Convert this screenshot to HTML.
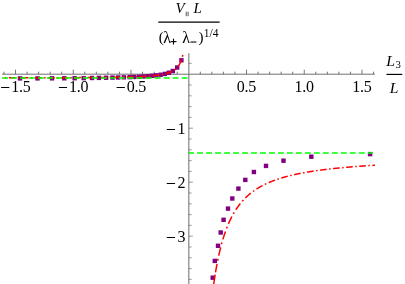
<!DOCTYPE html><html><head><meta charset="utf-8"><style>html,body{margin:0;padding:0;background:#fff;}svg{display:block;will-change:transform}text{font-family:"Liberation Serif",serif;fill:#000}</style></head><body>
<svg width="405" height="284" viewBox="0 0 405 284">
<rect width="405" height="284" fill="#fff"/>
<g stroke="#707070" stroke-width="1.0" fill="none">
<line x1="2.1" y1="74.2" x2="374.8" y2="74.2"/>
<line x1="188.85" y1="53.2" x2="188.85" y2="284" stroke="#6c6c6c" stroke-width="1.0"/>
</g>
<g stroke="#666" stroke-width="0.9" fill="none">
<line x1="3.95" y1="74.2" x2="3.95" y2="71.70"/>
<line x1="15.50" y1="74.2" x2="15.50" y2="69.70"/>
<line x1="27.05" y1="74.2" x2="27.05" y2="71.70"/>
<line x1="38.60" y1="74.2" x2="38.60" y2="71.70"/>
<line x1="50.15" y1="74.2" x2="50.15" y2="71.70"/>
<line x1="61.70" y1="74.2" x2="61.70" y2="71.70"/>
<line x1="73.25" y1="74.2" x2="73.25" y2="69.70"/>
<line x1="84.80" y1="74.2" x2="84.80" y2="71.70"/>
<line x1="96.35" y1="74.2" x2="96.35" y2="71.70"/>
<line x1="107.90" y1="74.2" x2="107.90" y2="71.70"/>
<line x1="119.45" y1="74.2" x2="119.45" y2="71.70"/>
<line x1="131.00" y1="74.2" x2="131.00" y2="69.70"/>
<line x1="142.55" y1="74.2" x2="142.55" y2="71.70"/>
<line x1="154.10" y1="74.2" x2="154.10" y2="71.70"/>
<line x1="165.65" y1="74.2" x2="165.65" y2="71.70"/>
<line x1="177.20" y1="74.2" x2="177.20" y2="71.70"/>
<line x1="200.30" y1="74.2" x2="200.30" y2="71.70"/>
<line x1="211.85" y1="74.2" x2="211.85" y2="71.70"/>
<line x1="223.40" y1="74.2" x2="223.40" y2="71.70"/>
<line x1="234.95" y1="74.2" x2="234.95" y2="71.70"/>
<line x1="246.50" y1="74.2" x2="246.50" y2="69.70"/>
<line x1="258.05" y1="74.2" x2="258.05" y2="71.70"/>
<line x1="269.60" y1="74.2" x2="269.60" y2="71.70"/>
<line x1="281.15" y1="74.2" x2="281.15" y2="71.70"/>
<line x1="292.70" y1="74.2" x2="292.70" y2="71.70"/>
<line x1="304.25" y1="74.2" x2="304.25" y2="69.70"/>
<line x1="315.80" y1="74.2" x2="315.80" y2="71.70"/>
<line x1="327.35" y1="74.2" x2="327.35" y2="71.70"/>
<line x1="338.90" y1="74.2" x2="338.90" y2="71.70"/>
<line x1="350.45" y1="74.2" x2="350.45" y2="71.70"/>
<line x1="362.00" y1="74.2" x2="362.00" y2="69.70"/>
<line x1="373.55" y1="74.2" x2="373.55" y2="71.70"/>
<line x1="188.75" y1="279.40" x2="191.65" y2="279.40" stroke-width="0.65"/>
<line x1="188.75" y1="268.60" x2="191.65" y2="268.60" stroke-width="0.65"/>
<line x1="188.75" y1="257.80" x2="191.65" y2="257.80" stroke-width="0.65"/>
<line x1="188.75" y1="247.00" x2="191.65" y2="247.00" stroke-width="0.65"/>
<line x1="188.75" y1="236.20" x2="192.95" y2="236.20" stroke-width="0.65"/>
<line x1="188.75" y1="225.40" x2="191.65" y2="225.40" stroke-width="0.65"/>
<line x1="188.75" y1="214.60" x2="191.65" y2="214.60" stroke-width="0.65"/>
<line x1="188.75" y1="203.80" x2="191.65" y2="203.80" stroke-width="0.65"/>
<line x1="188.75" y1="193.00" x2="191.65" y2="193.00" stroke-width="0.65"/>
<line x1="188.75" y1="182.20" x2="192.95" y2="182.20" stroke-width="0.65"/>
<line x1="188.75" y1="171.40" x2="191.65" y2="171.40" stroke-width="0.65"/>
<line x1="188.75" y1="160.60" x2="191.65" y2="160.60" stroke-width="0.65"/>
<line x1="188.75" y1="149.80" x2="191.65" y2="149.80" stroke-width="0.65"/>
<line x1="188.75" y1="139.00" x2="191.65" y2="139.00" stroke-width="0.65"/>
<line x1="188.75" y1="128.20" x2="192.95" y2="128.20" stroke-width="0.65"/>
<line x1="188.75" y1="117.40" x2="191.65" y2="117.40" stroke-width="0.65"/>
<line x1="188.75" y1="106.60" x2="191.65" y2="106.60" stroke-width="0.65"/>
<line x1="188.75" y1="95.80" x2="191.65" y2="95.80" stroke-width="0.65"/>
<line x1="188.75" y1="85.00" x2="191.65" y2="85.00" stroke-width="0.65"/>
<line x1="188.75" y1="63.40" x2="191.65" y2="63.40" stroke-width="0.65"/>
</g>
<g fill="#800080">
<rect x="367.90" y="151.90" width="4.4" height="4.4"/>
<rect x="309.10" y="154.50" width="4.4" height="4.4"/>
<rect x="281.30" y="158.50" width="4.4" height="4.4"/>
<rect x="263.80" y="163.70" width="4.4" height="4.4"/>
<rect x="251.70" y="169.80" width="4.4" height="4.4"/>
<rect x="243.10" y="177.70" width="4.4" height="4.4"/>
<rect x="236.20" y="186.40" width="4.4" height="4.4"/>
<rect x="230.10" y="196.30" width="4.4" height="4.4"/>
<rect x="225.80" y="206.40" width="4.4" height="4.4"/>
<rect x="221.40" y="217.60" width="4.4" height="4.4"/>
<rect x="218.50" y="230.30" width="4.4" height="4.4"/>
<rect x="215.80" y="243.60" width="4.4" height="4.4"/>
<rect x="212.60" y="258.70" width="4.4" height="4.4"/>
<rect x="210.50" y="275.50" width="4.4" height="4.4"/>
<rect x="17.80" y="76.20" width="4.4" height="4.4"/>
<rect x="35.30" y="76.17" width="4.4" height="4.4"/>
<rect x="49.80" y="76.13" width="4.4" height="4.4"/>
<rect x="62.10" y="76.09" width="4.4" height="4.4"/>
<rect x="72.40" y="76.04" width="4.4" height="4.4"/>
<rect x="81.50" y="75.92" width="4.4" height="4.4"/>
<rect x="89.80" y="75.80" width="4.4" height="4.4"/>
<rect x="96.70" y="75.68" width="4.4" height="4.4"/>
<rect x="103.90" y="75.55" width="4.4" height="4.4"/>
<rect x="110.30" y="75.41" width="4.4" height="4.4"/>
<rect x="116.00" y="75.28" width="4.4" height="4.4"/>
<rect x="121.60" y="75.12" width="4.4" height="4.4"/>
<rect x="127.50" y="74.92" width="4.4" height="4.4"/>
<rect x="132.00" y="74.74" width="4.4" height="4.4"/>
<rect x="136.80" y="74.52" width="4.4" height="4.4"/>
<rect x="141.00" y="74.28" width="4.4" height="4.4"/>
<rect x="145.30" y="73.99" width="4.4" height="4.4"/>
<rect x="149.60" y="73.62" width="4.4" height="4.4"/>
<rect x="153.90" y="73.17" width="4.4" height="4.4"/>
<rect x="158.40" y="72.55" width="4.4" height="4.4"/>
<rect x="162.60" y="71.73" width="4.4" height="4.4"/>
<rect x="166.70" y="70.55" width="4.4" height="4.4"/>
<rect x="170.60" y="68.81" width="4.4" height="4.4"/>
<rect x="175.00" y="65.29" width="4.4" height="4.4"/>
<rect x="179.20" y="58.11" width="4.4" height="4.4"/>
</g>
<path d="M213.67,284.50 L213.74,283.94 L213.82,283.39 L213.90,282.84 L213.98,282.30 L214.06,281.76 L214.14,281.23 L214.22,280.69 L214.30,280.17 L214.38,279.64 L214.45,279.12 L214.53,278.60 L214.61,278.09 L214.69,277.58 L214.77,277.08 L214.85,276.57 L214.93,276.07 L215.01,275.58 L215.09,275.09 L215.16,274.60 M215.54,272.30 L215.81,270.73 L216.08,269.20 L216.34,267.70 L216.61,266.24 L216.87,264.81 L217.05,263.88 M217.67,260.71 L217.67,260.70 L217.94,259.39 L218.06,258.81 M218.73,255.66 L218.74,255.62 L219.00,254.42 L219.27,253.24 L219.54,252.09 L219.80,250.96 L220.07,249.85 L220.34,248.76 L220.60,247.70 L220.68,247.40 M221.49,244.30 L221.67,243.65 L221.93,242.69 L222.00,242.45 M222.88,239.39 L223.00,239.01 L223.26,238.13 L223.53,237.27 L223.80,236.42 L224.06,235.59 L224.33,234.78 L224.59,233.98 L224.86,233.19 L225.13,232.42 L225.39,231.66 L225.47,231.44 M226.56,228.49 L226.72,228.05 L226.99,227.36 L227.24,226.74 M228.43,223.86 L228.59,223.48 L228.85,222.87 L229.12,222.27 L229.39,221.68 L229.65,221.10 L229.92,220.52 L230.18,219.96 L230.45,219.40 L230.72,218.85 L230.98,218.32 L231.25,217.78 L231.52,217.26 L231.78,216.75 L231.91,216.51 M233.36,213.85 L233.38,213.81 L233.65,213.34 L233.91,212.89 L234.18,212.43 L234.27,212.28 M235.85,209.74 L236.04,209.44 L236.31,209.04 L236.57,208.64 L236.84,208.24 L237.11,207.85 L237.37,207.47 L237.64,207.09 L237.90,206.72 L238.17,206.35 L238.44,205.99 L238.70,205.63 L238.97,205.27 L239.24,204.92 L239.50,204.58 L239.77,204.24 L240.03,203.90 L240.30,203.57 L240.38,203.47 M242.23,201.27 L242.43,201.05 L242.70,200.75 L242.96,200.45 L243.23,200.16 L243.38,200.00 M245.34,197.97 L245.36,197.95 L245.62,197.69 L245.89,197.43 L246.16,197.17 L246.42,196.92 L246.69,196.67 L246.96,196.42 L247.22,196.18 L247.49,195.93 L247.75,195.69 L248.02,195.46 L248.29,195.22 L248.55,194.99 L248.82,194.76 L249.09,194.53 L249.35,194.31 L249.62,194.08 L249.88,193.86 L250.15,193.64 L250.42,193.43 L250.68,193.22 L250.80,193.12 M252.96,191.47 L253.08,191.39 L253.34,191.20 L253.61,191.00 L253.88,190.82 L254.14,190.63 L254.28,190.53 M256.51,189.04 L256.54,189.02 L256.81,188.85 L257.07,188.68 L257.34,188.52 L257.60,188.35 L257.87,188.19 L258.14,188.02 L258.40,187.86 L258.67,187.70 L258.93,187.55 L259.20,187.39 L259.47,187.23 L259.73,187.08 L260.00,186.93 L260.27,186.78 L260.53,186.63 L260.80,186.48 L261.06,186.33 L261.33,186.19 L261.60,186.04 L261.86,185.90 L262.13,185.76 L262.40,185.62 L262.54,185.54 M264.87,184.36 L265.06,184.27 L265.32,184.15 L265.59,184.02 L265.86,183.89 L266.12,183.77 L266.28,183.69 M268.65,182.63 L268.78,182.57 L269.05,182.46 L269.32,182.34 L269.58,182.23 L269.85,182.12 L270.12,182.01 L270.38,181.90 L270.65,181.79 L270.91,181.68 L271.18,181.58 L271.45,181.47 L271.71,181.36 L271.98,181.26 L272.25,181.15 L272.51,181.05 L272.78,180.95 L273.04,180.85 L273.31,180.74 L273.58,180.64 L273.84,180.54 L274.11,180.45 L274.37,180.35 L274.64,180.25 L274.91,180.15 L274.96,180.13 M277.38,179.29 L277.57,179.23 L277.84,179.14 L278.10,179.05 L278.37,178.96 L278.63,178.87 L278.83,178.81 M281.26,178.04 L281.30,178.03 L281.56,177.95 L281.83,177.87 L282.09,177.79 L282.36,177.71 L282.63,177.63 L282.89,177.55 L283.16,177.48 L283.43,177.40 L283.69,177.32 L283.96,177.25 L284.22,177.17 L284.49,177.10 L284.76,177.02 L285.02,176.95 L285.29,176.87 L285.56,176.80 L285.82,176.73 L286.09,176.65 L286.35,176.58 L286.62,176.51 L286.89,176.44 L287.15,176.37 L287.42,176.30 L287.69,176.23 L287.72,176.22 M290.17,175.60 L290.35,175.56 L290.61,175.49 L290.88,175.43 L291.15,175.36 L291.41,175.30 L291.65,175.25 M294.11,174.68 L294.34,174.62 L294.61,174.57 L294.87,174.51 L295.14,174.45 L295.40,174.39 L295.67,174.33 L295.94,174.27 L296.20,174.22 L296.47,174.16 L296.74,174.10 L297.00,174.05 L297.27,173.99 L297.53,173.94 L297.80,173.88 L298.07,173.83 L298.33,173.77 L298.60,173.72 L298.87,173.66 L299.13,173.61 L299.40,173.56 L299.66,173.50 L299.93,173.45 L300.20,173.40 L300.46,173.35 L300.62,173.31 M303.10,172.84 L303.12,172.84 L303.39,172.79 L303.66,172.74 L303.92,172.69 L304.19,172.64 L304.46,172.60 L304.58,172.57 M307.06,172.14 L307.12,172.13 L307.38,172.08 L307.65,172.04 L307.92,171.99 L308.18,171.95 L308.45,171.90 L308.72,171.86 L308.98,171.82 L309.25,171.77 L309.51,171.73 L309.78,171.69 L310.05,171.64 L310.31,171.60 L310.58,171.56 L310.84,171.51 L311.11,171.47 L311.38,171.43 L311.64,171.39 L311.91,171.35 L312.18,171.31 L312.44,171.27 L312.71,171.22 L312.97,171.18 L313.24,171.14 L313.51,171.10 L313.61,171.09 M316.10,170.72 L316.17,170.71 L316.44,170.67 L316.70,170.63 L316.97,170.60 L317.23,170.56 L317.50,170.52 L317.59,170.51 M320.08,170.17 L320.16,170.16 L320.43,170.12 L320.69,170.09 L320.96,170.05 L321.23,170.02 L321.49,169.98 L321.76,169.95 L322.03,169.91 L322.29,169.88 L322.56,169.84 L322.82,169.81 L323.09,169.77 L323.36,169.74 L323.62,169.71 L323.89,169.67 L324.16,169.64 L324.42,169.61 L324.69,169.57 L324.95,169.54 L325.22,169.51 L325.49,169.48 L325.75,169.44 L326.02,169.41 L326.28,169.38 L326.55,169.35 L326.64,169.34 M329.13,169.04 L329.21,169.04 L329.48,169.01 L329.75,168.97 L330.01,168.94 L330.28,168.91 L330.54,168.88 L330.63,168.88 M333.12,168.60 L333.21,168.59 L333.47,168.56 L333.74,168.54 L334.00,168.51 L334.27,168.48 L334.54,168.45 L334.80,168.42 L335.07,168.40 L335.34,168.37 L335.60,168.34 L335.87,168.31 L336.13,168.29 L336.40,168.26 L336.67,168.23 L336.93,168.20 L337.20,168.18 L337.47,168.15 L337.73,168.12 L338.00,168.10 L338.26,168.07 L338.53,168.04 L338.80,168.02 L339.06,167.99 L339.33,167.97 L339.59,167.94 L339.70,167.93 M342.19,167.69 L342.26,167.69 L342.52,167.66 L342.79,167.64 L343.06,167.61 L343.32,167.59 L343.59,167.56 L343.69,167.55 M346.18,167.33 L346.25,167.32 L346.52,167.30 L346.78,167.28 L347.05,167.25 L347.31,167.23 L347.58,167.21 L347.85,167.18 L348.11,167.16 L348.38,167.14 L348.65,167.12 L348.91,167.09 L349.18,167.07 L349.44,167.05 L349.71,167.03 L349.98,167.00 L350.24,166.98 L350.51,166.96 L350.78,166.94 L351.04,166.92 L351.31,166.89 L351.57,166.87 L351.84,166.85 L352.11,166.83 L352.37,166.81 L352.64,166.79 L352.77,166.78 M355.27,166.58 L355.30,166.58 L355.57,166.56 L355.83,166.54 L356.10,166.52 L356.37,166.49 L356.63,166.47 L356.76,166.46 M359.26,166.28 L359.29,166.28 L359.56,166.26 L359.83,166.24 L360.09,166.22 L360.36,166.20 L360.62,166.18 L360.89,166.16 L361.16,166.14 L361.42,166.12 L361.69,166.10 L361.96,166.08 L362.22,166.07 L362.49,166.05 L362.75,166.03 L363.02,166.01 L363.29,165.99 L363.55,165.97 L363.82,165.95 L364.09,165.94 L364.35,165.92 L364.62,165.90 L364.88,165.88 L365.15,165.86 L365.42,165.84 L365.68,165.83 L365.85,165.82 M368.35,165.65 L368.61,165.63 L368.88,165.62 L369.14,165.60 L369.41,165.58 L369.68,165.56 L369.85,165.55 M372.34,165.40 L372.60,165.38 L372.87,165.36 L373.14,165.35 L373.40,165.33 L373.67,165.31 L373.94,165.30 L374.20,165.28 L374.47,165.27 L374.73,165.25 L375.00,165.23" fill="none" stroke="#ff0000" stroke-width="1.5"/>
<path d="M182.80,54.89 L182.74,55.16 L182.54,56.01 L182.35,56.76 M181.44,59.81 L181.33,60.10 L181.13,60.66 L180.93,61.18 L180.73,61.68 L180.53,62.15 L180.33,62.60 L180.13,63.02 L179.93,63.43 L179.72,63.82 L179.52,64.19 L179.32,64.54 L179.12,64.88 L178.92,65.20 L178.72,65.51 L178.52,65.81 L178.32,66.10 L178.12,66.37 L177.91,66.63 L177.72,66.88 M175.76,68.92 L175.70,68.97 L175.50,69.14 L175.30,69.31 L175.10,69.47 L174.90,69.63 L174.70,69.78 L174.50,69.92 L174.48,69.94 M172.22,71.32 L172.08,71.39 L171.88,71.50 L171.68,71.59 L171.48,71.69 L171.28,71.79 L171.08,71.88 L170.88,71.97 L170.67,72.06 L170.47,72.14 L170.27,72.23 L170.07,72.31 L169.87,72.39 L169.67,72.47 L169.47,72.54 L169.27,72.62 L169.07,72.69 L168.87,72.76 L168.66,72.83 L168.46,72.90 L168.26,72.97 L168.06,73.03 L167.86,73.10 L167.66,73.16 L167.46,73.22 L167.26,73.28 L167.06,73.34 L166.85,73.40 L166.65,73.45 L166.45,73.51 L166.25,73.56 L166.05,73.62 L165.87,73.66 M163.41,74.23 L163.23,74.27 L163.03,74.31 L162.83,74.35 L162.63,74.39 L162.43,74.43 L162.23,74.46 L162.03,74.50 L161.93,74.52 M159.45,74.93 L159.41,74.93 L159.21,74.96 L159.01,74.99 L158.81,75.02 L158.61,75.05 L158.41,75.08 L158.21,75.10 L158.01,75.13 L157.81,75.16 L157.60,75.18 L157.40,75.21 L157.20,75.24 L157.00,75.26 L156.80,75.29 L156.60,75.31 L156.40,75.33 L156.20,75.36 L156.00,75.38 L155.79,75.41 L155.59,75.43 L155.39,75.45 L155.19,75.47 L154.99,75.49 L154.79,75.52 L154.59,75.54 L154.39,75.56 L154.19,75.58 L153.98,75.60 L153.78,75.62 L153.58,75.64 L153.38,75.66 L153.18,75.68 L152.98,75.70 L152.88,75.71 M150.38,75.93 L150.36,75.93 L150.16,75.94 L149.96,75.96 L149.76,75.98 L149.56,75.99 L149.36,76.01 L149.16,76.02 L148.96,76.04 L148.88,76.04 M146.39,76.21 L146.34,76.22 L146.14,76.23 L145.94,76.24 L145.74,76.26 L145.54,76.27 L145.34,76.28 L145.14,76.29 L144.94,76.30 L144.73,76.32 L144.53,76.33 L144.33,76.34 L144.13,76.35 L143.93,76.36 L143.73,76.37 L143.53,76.38 L143.33,76.40 L143.13,76.41 L142.92,76.42 L142.72,76.43 L142.52,76.44 L142.32,76.45 L142.12,76.46 L141.92,76.47 L141.72,76.48 L141.52,76.49 L141.32,76.50 L141.11,76.51 L140.91,76.52 L140.71,76.53 L140.51,76.54 L140.31,76.55 L140.11,76.56 L139.91,76.57 L139.79,76.57 M137.29,76.68 L137.29,76.68 L137.09,76.69 L136.89,76.70 L136.69,76.70 L136.49,76.71 L136.29,76.72 L136.09,76.73 L135.89,76.74 L135.79,76.74 M133.30,76.83 L133.27,76.83 L133.07,76.84 L132.87,76.84 L132.67,76.85 L132.47,76.86 L132.27,76.86 L132.07,76.87 L131.86,76.88 L131.66,76.88 L131.46,76.89 L131.26,76.89 L131.06,76.90 L130.86,76.91 L130.66,76.91 L130.46,76.92 L130.26,76.92 L130.05,76.93 L129.85,76.94 L129.65,76.94 L129.45,76.95 L129.25,76.95 L129.05,76.96 L128.85,76.97 L128.65,76.97 L128.45,76.98 L128.24,76.98 L128.04,76.99 L127.84,76.99 L127.64,77.00 L127.44,77.00 L127.24,77.01 L127.04,77.01 L126.84,77.02 L126.70,77.02 M124.20,77.08 L124.02,77.09 L123.82,77.09 L123.62,77.10 L123.42,77.10 L123.22,77.11 L123.02,77.11 L122.82,77.12 L122.70,77.12 M120.20,77.17 L120.00,77.17 L119.80,77.18 L119.60,77.18 L119.40,77.19 L119.20,77.19 L118.99,77.19 L118.79,77.20 L118.59,77.20 L118.39,77.21 L118.19,77.21 L117.99,77.21 L117.79,77.22 L117.59,77.22 L117.39,77.22 L117.18,77.23 L116.98,77.23 L116.78,77.24 L116.58,77.24 L116.38,77.24 L116.18,77.25 L115.98,77.25 L115.78,77.25 L115.58,77.26 L115.37,77.26 L115.17,77.26 L114.97,77.27 L114.77,77.27 L114.57,77.27 L114.37,77.28 L114.17,77.28 L113.97,77.28 L113.77,77.29 L113.60,77.29 M111.10,77.33 L110.95,77.33 L110.75,77.33 L110.55,77.33 L110.35,77.34 L110.15,77.34 L109.95,77.34 L109.74,77.35 L109.60,77.35 M107.10,77.38 L106.93,77.38 L106.73,77.39 L106.53,77.39 L106.33,77.39 L106.12,77.39 L105.92,77.40 L105.72,77.40 L105.52,77.40 L105.32,77.40 L105.12,77.41 L104.92,77.41 L104.72,77.41 L104.52,77.41 L104.31,77.42 L104.11,77.42 L103.91,77.42 L103.71,77.42 L103.51,77.42 L103.31,77.43 L103.11,77.43 L102.91,77.43 L102.71,77.43 L102.50,77.44 L102.30,77.44 L102.10,77.44 L101.90,77.44 L101.70,77.44 L101.50,77.45 L101.30,77.45 L101.10,77.45 L100.90,77.45 L100.70,77.46 L100.50,77.46 M98.00,77.48 L97.88,77.48 L97.68,77.49 L97.48,77.49 L97.28,77.49 L97.08,77.49 L96.87,77.49 L96.67,77.49 L96.50,77.50 M94.00,77.52 L93.86,77.52 L93.66,77.52 L93.46,77.52 L93.25,77.52 L93.05,77.53 L92.85,77.53 L92.65,77.53 L92.45,77.53 L92.25,77.53 L92.05,77.53 L91.85,77.54 L91.65,77.54 L91.44,77.54 L91.24,77.54 L91.04,77.54 L90.84,77.54 L90.64,77.55 L90.44,77.55 L90.24,77.55 L90.04,77.55 L89.84,77.55 L89.63,77.55 L89.43,77.56 L89.23,77.56 L89.03,77.56 L88.83,77.56 L88.63,77.56 L88.43,77.56 L88.23,77.56 L88.03,77.57 L87.83,77.57 L87.62,77.57 L87.42,77.57 L87.40,77.57 M84.90,77.59 L84.81,77.59 L84.61,77.59 L84.41,77.59 L84.21,77.59 L84.00,77.59 L83.80,77.59 L83.60,77.60 L83.40,77.60 L83.40,77.60 M80.90,77.61 L80.79,77.61 L80.59,77.61 L80.38,77.62 L80.18,77.62 L79.98,77.62 L79.78,77.62 L79.58,77.62 L79.38,77.62 L79.18,77.62 L78.98,77.62 L78.78,77.62 L78.57,77.63 L78.37,77.63 L78.17,77.63 L77.97,77.63 L77.77,77.63 L77.57,77.63 L77.37,77.63 L77.17,77.63 L76.97,77.63 L76.77,77.64 L76.56,77.64 L76.36,77.64 L76.16,77.64 L75.96,77.64 L75.76,77.64 L75.56,77.64 L75.36,77.64 L75.16,77.64 L74.96,77.64 L74.75,77.65 L74.55,77.65 L74.35,77.65 L74.30,77.65 M71.80,77.66 L71.74,77.66 L71.54,77.66 L71.34,77.66 L71.13,77.66 L70.93,77.66 L70.73,77.66 L70.53,77.67 L70.33,77.67 L70.30,77.67 M67.80,77.68 L67.72,77.68 L67.51,77.68 L67.31,77.68 L67.11,77.68 L66.91,77.68 L66.71,77.68 L66.51,77.68 L66.31,77.68 L66.11,77.68 L65.91,77.69 L65.71,77.69 L65.50,77.69 L65.30,77.69 L65.10,77.69 L64.90,77.69 L64.70,77.69 L64.50,77.69 L64.30,77.69 L64.10,77.69 L63.90,77.69 L63.69,77.69 L63.49,77.69 L63.29,77.70 L63.09,77.70 L62.89,77.70 L62.69,77.70 L62.49,77.70 L62.29,77.70 L62.09,77.70 L61.88,77.70 L61.68,77.70 L61.48,77.70 L61.28,77.70 L61.20,77.70 M58.70,77.71 L58.67,77.71 L58.47,77.71 L58.26,77.71 L58.06,77.71 L57.86,77.71 L57.66,77.72 L57.46,77.72 L57.26,77.72 L57.20,77.72 M54.70,77.72 L54.65,77.72 L54.44,77.73 L54.24,77.73 L54.04,77.73 L53.84,77.73 L53.64,77.73 L53.44,77.73 L53.24,77.73 L53.04,77.73 L52.84,77.73 L52.63,77.73 L52.43,77.73 L52.23,77.73 L52.03,77.73 L51.83,77.73 L51.63,77.73 L51.43,77.73 L51.23,77.73 L51.03,77.74 L50.82,77.74 L50.62,77.74 L50.42,77.74 L50.22,77.74 L50.02,77.74 L49.82,77.74 L49.62,77.74 L49.42,77.74 L49.22,77.74 L49.01,77.74 L48.81,77.74 L48.61,77.74 L48.41,77.74 L48.21,77.74 L48.10,77.74 M45.60,77.75 L45.60,77.75 L45.39,77.75 L45.19,77.75 L44.99,77.75 L44.79,77.75 L44.59,77.75 L44.39,77.75 L44.19,77.75 L44.10,77.75 M41.60,77.76 L41.57,77.76 L41.37,77.76 L41.17,77.76 L40.97,77.76 L40.77,77.76 L40.57,77.76 L40.37,77.76 L40.17,77.76 L39.97,77.76 L39.76,77.76 L39.56,77.76 L39.36,77.76 L39.16,77.76 L38.96,77.76 L38.76,77.76 L38.56,77.77 L38.36,77.77 L38.16,77.77 L37.95,77.77 L37.75,77.77 L37.55,77.77 L37.35,77.77 L37.15,77.77 L36.95,77.77 L36.75,77.77 L36.55,77.77 L36.35,77.77 L36.14,77.77 L35.94,77.77 L35.74,77.77 L35.54,77.77 L35.34,77.77 L35.14,77.77 L35.00,77.77 M32.50,77.78 L32.32,77.78 L32.12,77.78 L31.92,77.78 L31.72,77.78 L31.52,77.78 L31.32,77.78 L31.12,77.78 L31.00,77.78 M28.50,77.78 L28.30,77.78 L28.10,77.78 L27.90,77.78 L27.70,77.78 L27.50,77.78 L27.30,77.79 L27.10,77.79 L26.89,77.79 L26.69,77.79 L26.49,77.79 L26.29,77.79 L26.09,77.79 L25.89,77.79 L25.69,77.79 L25.49,77.79 L25.29,77.79 L25.08,77.79 L24.88,77.79 L24.68,77.79 L24.48,77.79 L24.28,77.79 L24.08,77.79 L23.88,77.79 L23.68,77.79 L23.48,77.79 L23.27,77.79 L23.07,77.79 L22.87,77.79 L22.67,77.79 L22.47,77.79 L22.27,77.79 L22.07,77.79 L21.90,77.79 M19.40,77.80 L19.25,77.80 L19.05,77.80 L18.85,77.80 L18.65,77.80 L18.45,77.80 L18.25,77.80 L18.05,77.80 L17.90,77.80 M15.40,77.80 L15.23,77.80 L15.03,77.80 L14.83,77.80 L14.63,77.80 L14.43,77.80 L14.23,77.80 L14.02,77.80 L13.82,77.80 L13.62,77.80 L13.42,77.80 L13.22,77.80 L13.02,77.80 L12.82,77.80 L12.62,77.80 L12.42,77.80 L12.21,77.81 L12.01,77.81 L11.81,77.81 L11.61,77.81 L11.41,77.81 L11.21,77.81 L11.01,77.81 L10.81,77.81 L10.61,77.81 L10.40,77.81 L10.20,77.81 L10.00,77.81 L9.80,77.81 L9.60,77.81 L9.40,77.81 L9.20,77.81 L9.00,77.81 L8.80,77.81 M6.30,77.81 L6.18,77.81 L5.98,77.81 L5.78,77.81 L5.58,77.81 L5.38,77.81 L5.18,77.81 L4.98,77.81 L4.80,77.81 M2.30,77.81 L2.16,77.81" fill="none" stroke="#ff0000" stroke-width="1.5"/>
<line x1="2.1" y1="78.05" x2="188" y2="78.05" stroke="#00ff00" stroke-width="1.6" stroke-dasharray="5.85 3.13"/>
<line x1="188.2" y1="153.05" x2="372.9" y2="153.0" stroke="#00ff00" stroke-width="1.6" stroke-dasharray="5.85 3.13"/>
<rect x="1.10" y="87" width="8.2" height="1" fill="#000"/>
<text x="11.20" y="92.2" font-size="16" text-anchor="start" textLength="19.5">1.5</text>
<rect x="58.85" y="87" width="8.2" height="1" fill="#000"/>
<text x="68.95" y="92.2" font-size="16" text-anchor="start" textLength="19.5">1.0</text>
<rect x="116.60" y="87" width="8.2" height="1" fill="#000"/>
<text x="126.70" y="92.2" font-size="16" text-anchor="start" textLength="19.5">0.5</text>
<text x="246.50" y="92.2" font-size="16" text-anchor="middle" textLength="19.5">0.5</text>
<text x="304.25" y="92.2" font-size="16" text-anchor="middle" textLength="19.5">1.0</text>
<text x="362.00" y="92.2" font-size="16" text-anchor="middle" textLength="19.5">1.5</text>
<text x="185.55" y="133.50" font-size="16" text-anchor="end" >1</text>
<rect x="166.75" y="129" width="8.3" height="1" fill="#000"/>
<text x="185.55" y="187.50" font-size="16" text-anchor="end" >2</text>
<rect x="166.75" y="183" width="8.3" height="1" fill="#000"/>
<text x="185.55" y="241.50" font-size="16" text-anchor="end" >3</text>
<rect x="166.75" y="237" width="8.3" height="1" fill="#000"/>
<text x="175.6" y="13.2" font-size="15" font-style="italic">V</text>
<rect x="185.8" y="11.7" width="0.75" height="4.5" fill="#222"/><rect x="187.7" y="11.7" width="0.75" height="4.5" fill="#222"/>
<text x="193.5" y="13.2" font-size="15" font-style="italic">L</text>
<line x1="158.3" y1="22.2" x2="219.6" y2="22.2" stroke="#000" stroke-width="1.25"/>
<text x="158.7" y="42.3" font-size="15">(</text>
<text x="163.2" y="43.2" font-size="16">λ</text>
<rect x="170.5" y="41.05" width="6.0" height="1.1" fill="#000"/><rect x="172.95" y="38.7" width="1.1" height="5.8" fill="#000"/>
<text x="182.3" y="43.2" font-size="16">λ</text>
<rect x="190.4" y="41.5" width="6.0" height="1.05" fill="#000"/>
<text x="198.6" y="42.3" font-size="15">)</text>
<text x="203.7" y="36.9" font-size="11.5">1/4</text>
<text x="386.3" y="65.8" font-size="15.6" font-style="italic">L</text>
<text x="395.5" y="68.2" font-size="10.8">3</text>
<line x1="386.5" y1="74.4" x2="402.3" y2="74.4" stroke="#000" stroke-width="1.15"/>
<text x="389.8" y="93.3" font-size="15.6" font-style="italic">L</text>
</svg></body></html>
